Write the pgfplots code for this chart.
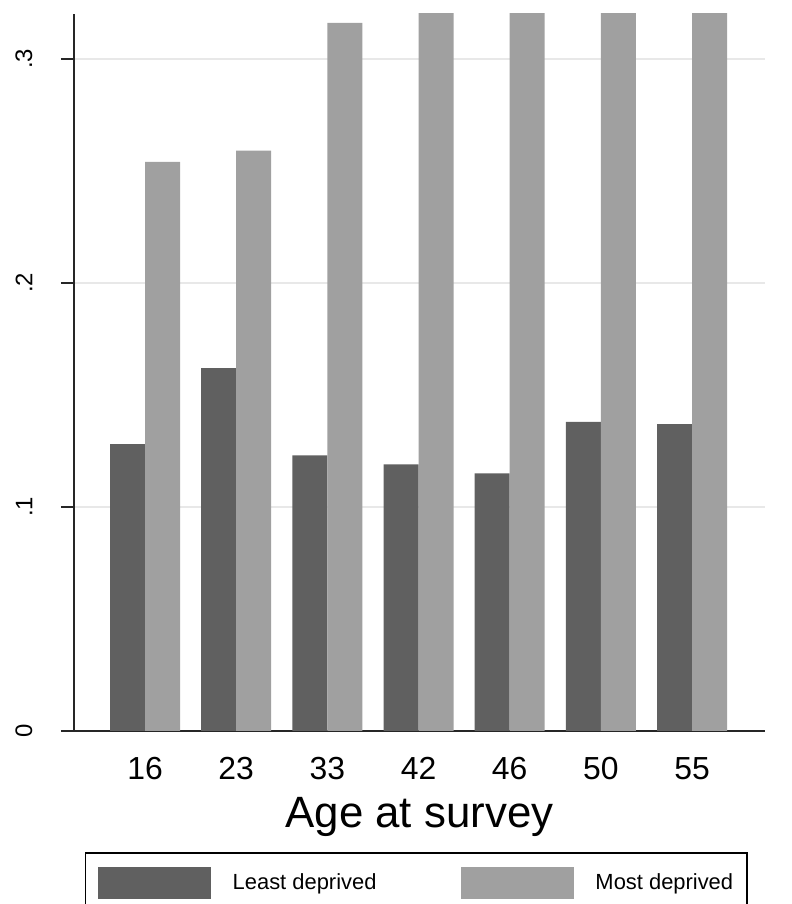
\documentclass[border=0pt]{standalone}
\usepackage{fontspec}
\setmainfont{Liberation Sans}
\usepackage{pgfplots}
\pgfplotsset{compat=1.18}
\definecolor{darkbar}{RGB}{96,96,96}
\definecolor{lightbar}{RGB}{160,160,160}
\definecolor{gridc}{RGB}{232,232,232}
\begin{document}
\begin{tikzpicture}
\useasboundingbox (0bp,0bp) rectangle (792bp,904bp);
\begin{axis}[
  at={(74bp,173bp)}, anchor=south west,
  scale only axis, width=691bp, height=717bp,
  xmin=-0.779, xmax=6.80, ymin=0, ymax=0.32,
  ybar=0pt, bar width=35bp,
  axis x line*=bottom, axis y line*=left,
  axis line style={line width=2bp, color=black!85},
  xtick={0,1,2,3,4,5,6}, xticklabels={16,23,33,42,46,50,55},
  ytick={0,0.1,0.2,0.3}, yticklabels={0,.1,.2,.3},
  every tick/.style={line width=2bp, draw=black!85},
  every major tick/.style={line width=2bp, draw=black!85},
  every y tick/.style={line width=2bp, draw=black!85},
  every x tick/.style={draw=none},
  tick align=outside, major tick length=13bp,
  ymajorgrids, grid style={gridc, line width=2.5bp},
  /pgf/number format/assume math mode=true,
  xticklabel style={font=\fontsize{32}{34}\selectfont, anchor=base, yshift=-35bp},
  yticklabel style={font=\fontsize{24}{26}\selectfont, xshift=-25bp, rotate=90, anchor=south},
  xlabel={Age at survey},
  xlabel style={font=\fontsize{44}{48}\selectfont, at={(axis description cs:0.5,0)}, anchor=base, yshift=-96bp},
  legend columns=2,
  legend image code/.code={\fill[#1] (0bp,-16bp) rectangle (113bp,16bp);},
  legend style={at={(axis description cs:0.0159,-0.1688)}, anchor=north west,
    draw=black, line width=1.5bp, inner xsep=12bp, inner ysep=14bp,
    font=\fontsize{22}{24}\selectfont,
    /tikz/every odd column/.append style={column sep=20bp},
    /tikz/every even column/.append style={column sep=82bp}},
  legend cell align=left,
]
\addplot[fill=darkbar, draw=none] coordinates {(0,0.128) (1,0.162) (2,0.123) (3,0.119) (4,0.115) (5,0.138) (6,0.137)};
\addplot[fill=lightbar, draw=none] coordinates {(0,0.254) (1,0.259) (2,0.316) (3,0.34) (4,0.35) (5,0.33) (6,0.34)};
\legend{Least deprived, Most deprived}
\end{axis}
\end{tikzpicture}
\end{document}
